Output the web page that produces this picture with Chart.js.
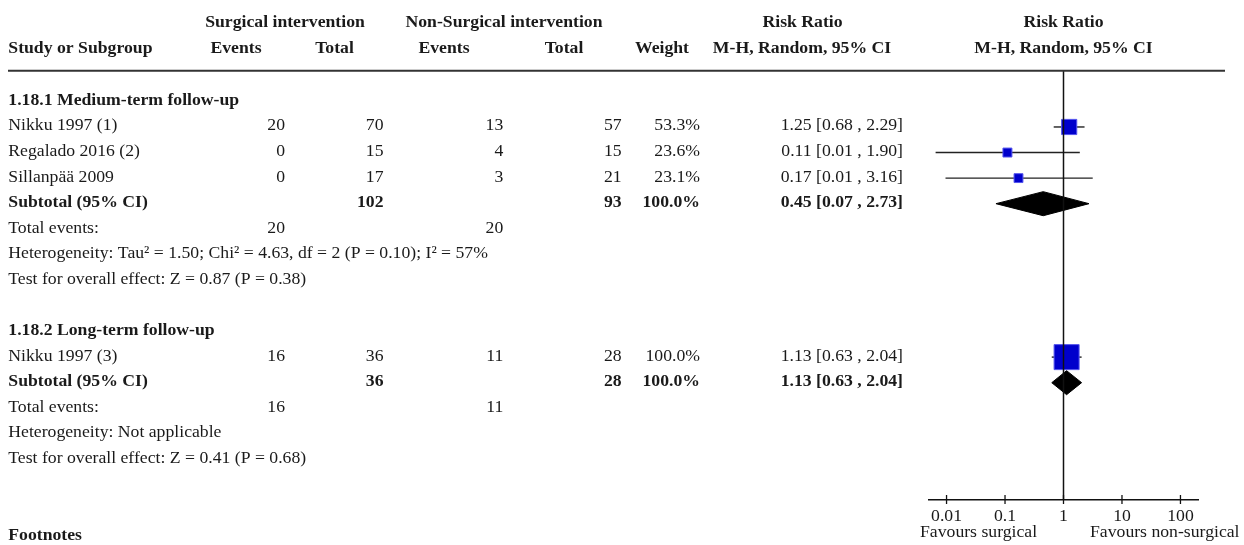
<!DOCTYPE html>
<html>
<head>
<meta charset="utf-8">
<script src="https://cdn.jsdelivr.net/npm/chart.js@4/dist/chart.umd.min.js"></script>
<style>
  html, body { margin: 0; padding: 0; background: #ffffff; }
  #plot { display: block; }
</style>
</head>
<body>
<canvas id="plot" width="1244" height="545"></canvas>
<script>
// ---- Study-level data ----
const studyNames     = ['Nikku 1997 (1)', 'Regalado 2016 (2)', 'Sillanpää 2009', 'Nikku 1997 (3)'];
const studyRows      = [1, 2, 3, 10];
const surgEvents     = [20, 0, 0, 16];
const surgTotals     = [70, 15, 17, 36];
const nonSurgEvents  = [13, 4, 3, 11];
const nonSurgTotals  = [57, 15, 21, 28];
const studyWeights   = [53.3, 23.6, 23.1, 100.0];
const studyRR        = [1.25, 0.11, 0.17, 1.13];
const studyLow       = [0.68, 0.0065, 0.0096, 0.63];
const studyHigh      = [2.29, 1.90, 3.16, 2.04];

// ---- Subgroup-level data ----
const groupTitles        = ['1.18.1 Medium-term follow-up', '1.18.2 Long-term follow-up'];
const groupRows          = [0, 9];
const subtotalRows       = [4, 11];
const groupSurgEvents    = [20, 16];
const groupNonSurgEvents = [20, 11];
const groupSurgTotals    = [102, 36];
const groupNonSurgTotals = [93, 28];
const groupWeights       = [100.0, 100.0];
const groupRR            = [0.45, 1.13];
const groupLow           = [0.07, 0.63];
const groupHigh          = [2.73, 2.04];
const heterogeneityText  = [
  'Heterogeneity: Tau² = 1.50; Chi² = 4.63, df = 2 (P = 0.10); I² = 57%',
  'Heterogeneity: Not applicable'
];
const overallEffectText  = [
  'Test for overall effect: Z = 0.87 (P = 0.38)',
  'Test for overall effect: Z = 0.41 (P = 0.68)'
];

// ---- Axis ----
const xTickValues = [0.01, 0.1, 1, 10, 100];
const xTickLabels = ['0.01', '0.1', '1', '10', '100'];
const favourLeft  = 'Favours surgical';
const favourRight = 'Favours non-surgical';

// row scale: rows run top to bottom
const Y_MIN = -1.189, Y_MAX = 15.588;
const DIAMOND_HALF = 0.47;

const FONT = '"Liberation Serif", "Times New Roman", serif';
const FS = 17.7;
const TEXT = '#1a1a1a';

const fmtRR = (m, l, h) => m.toFixed(2) + ' [' + l.toFixed(2) + ' , ' + h.toFixed(2) + ']';
const fmtW = w => w.toFixed(1) + '%';

// square side grows with study weight
const squareRadius = w => (4 + 21 * w / 100) / Math.SQRT2;

const datasets = [];

// reference line at RR = 1
datasets.push({
  data: [{ x: 1, y: Y_MIN }, { x: 1, y: Y_MAX }],
  showLine: true, pointRadius: 0, borderColor: '#111', borderWidth: 1.5,
  order: 0, clip: false
});

// confidence-interval whiskers
studyNames.forEach((_, i) => {
  datasets.push({
    data: [{ x: studyLow[i], y: studyRows[i] }, { x: studyHigh[i], y: studyRows[i] }],
    showLine: true, pointRadius: 0, borderColor: '#222', borderWidth: 1.4,
    order: 3
  });
});

// point estimates
datasets.push({
  data: studyRR.map((v, i) => ({ x: v, y: studyRows[i] })),
  showLine: false,
  pointStyle: 'rect',
  pointRadius: studyWeights.map(squareRadius),
  pointBackgroundColor: '#0000cc',
  pointBorderColor: '#5555ee',
  pointBorderWidth: 1,
  order: 1
});

// pooled diamonds
groupRR.forEach((v, i) => {
  const r = subtotalRows[i];
  datasets.push({
    data: [
      { x: groupLow[i], y: r },
      { x: v, y: r - DIAMOND_HALF },
      { x: groupHigh[i], y: r },
      { x: v, y: r + DIAMOND_HALF },
      { x: groupLow[i], y: r }
    ],
    showLine: true, pointRadius: 0, borderColor: '#000', borderWidth: 1,
    backgroundColor: '#000', fill: 'shape', tension: 0,
    order: 2
  });
});

// table text, header and axis decorations
const tablePlugin = {
  id: 'forestTable',
  afterDraw(chart) {
    const ctx = chart.ctx;
    const ys = chart.scales.y;
    const xs = chart.scales.x;
    const base = r => ys.getPixelForValue(r) + 3.4;
    const reg = FS + 'px ' + FONT;
    const bold = 'bold ' + FS + 'px ' + FONT;

    ctx.save();
    ctx.fillStyle = TEXT;
    ctx.textBaseline = 'alphabetic';

    const put = (txt, x, y, align, font) => {
      ctx.font = font || reg;
      ctx.textAlign = align;
      ctx.fillText(txt, x, y);
    };

    // column headers
    put('Surgical intervention', 285, 26.7, 'center', bold);
    put('Non-Surgical intervention', 504, 26.7, 'center', bold);
    put('Risk Ratio', 802.5, 26.7, 'center', bold);
    put('Risk Ratio', 1063.5, 26.7, 'center', bold);
    put('Study or Subgroup', 8.3, 52.5, 'left', bold);
    put('Events', 236, 52.5, 'center', bold);
    put('Total', 334.5, 52.5, 'center', bold);
    put('Events', 444, 52.5, 'center', bold);
    put('Total', 564, 52.5, 'center', bold);
    put('Weight', 689, 52.5, 'right', bold);
    put('M-H, Random, 95% CI', 802, 52.5, 'center', bold);
    put('M-H, Random, 95% CI', 1063.5, 52.5, 'center', bold);

    // header rule
    ctx.strokeStyle = '#333';
    ctx.lineWidth = 2;
    ctx.beginPath();
    ctx.moveTo(8, 70.7);
    ctx.lineTo(1225, 70.7);
    ctx.stroke();

    // study rows
    studyNames.forEach((name, i) => {
      const y = base(studyRows[i]);
      put(name, 8.3, y, 'left');
      put(String(surgEvents[i]), 285, y, 'right');
      put(String(surgTotals[i]), 383.5, y, 'right');
      put(String(nonSurgEvents[i]), 503.3, y, 'right');
      put(String(nonSurgTotals[i]), 621.7, y, 'right');
      put(fmtW(studyWeights[i]), 700, y, 'right');
      put(fmtRR(studyRR[i], studyLow[i], studyHigh[i]), 903, y, 'right');
    });

    // subgroup blocks
    groupTitles.forEach((title, g) => {
      put(title, 8.3, base(groupRows[g]), 'left', bold);
      const s = subtotalRows[g];
      const ys0 = base(s);
      put('Subtotal (95% CI)', 8.3, ys0, 'left', bold);
      put(String(groupSurgTotals[g]), 383.5, ys0, 'right', bold);
      put(String(groupNonSurgTotals[g]), 621.7, ys0, 'right', bold);
      put(fmtW(groupWeights[g]), 700, ys0, 'right', bold);
      put(fmtRR(groupRR[g], groupLow[g], groupHigh[g]), 903, ys0, 'right', bold);
      const ye = base(s + 1);
      put('Total events:', 8.3, ye, 'left');
      put(String(groupSurgEvents[g]), 285, ye, 'right');
      put(String(groupNonSurgEvents[g]), 503.3, ye, 'right');
      put(heterogeneityText[g], 8.3, base(s + 2), 'left');
      put(overallEffectText[g], 8.3, base(s + 3), 'left');
    });

    // axis tick marks crossing the axis line
    const axisY = xs.top;
    ctx.strokeStyle = '#111';
    ctx.lineWidth = 1.3;
    xTickValues.forEach(v => {
      const px = xs.getPixelForValue(v);
      ctx.beginPath();
      ctx.moveTo(px, axisY - 5);
      ctx.lineTo(px, axisY + 4);
      ctx.stroke();
    });

    // favour labels
    put(favourLeft, 920, 536.5, 'left');
    put(favourRight, 1090, 536.5, 'left');

    // footnotes heading
    put('Footnotes', 8.3, 540, 'left', bold);

    ctx.restore();
  }
};

new Chart(document.getElementById('plot'), {
  type: 'scatter',
  data: { datasets },
  options: {
    responsive: false,
    devicePixelRatio: 1,
    animation: false,
    events: [],
    layout: { padding: { left: 929, right: 46, top: 71, bottom: 0 } },
    plugins: { legend: { display: false }, tooltip: { enabled: false } },
    scales: {
      x: {
        type: 'logarithmic',
        min: Math.pow(10, -2.3),
        max: Math.pow(10, 2.3),
        position: 'bottom',
        afterFit: s => { s.height = 45; },
        afterBuildTicks: s => { s.ticks = xTickValues.map(v => ({ value: v })); },
        grid: { display: false },
        border: { display: true, color: '#111', width: 1.5 },
        ticks: {
          autoSkip: false, maxRotation: 0, padding: -2,
          color: TEXT,
          font: { family: FONT, size: FS },
          callback: v => { const k = xTickValues.indexOf(v); return k >= 0 ? xTickLabels[k] : ''; }
        }
      },
      y: {
        type: 'linear',
        reverse: true,
        min: Y_MIN,
        max: Y_MAX,
        display: false
      }
    }
  },
  plugins: [tablePlugin]
});
</script>
</body>
</html>
